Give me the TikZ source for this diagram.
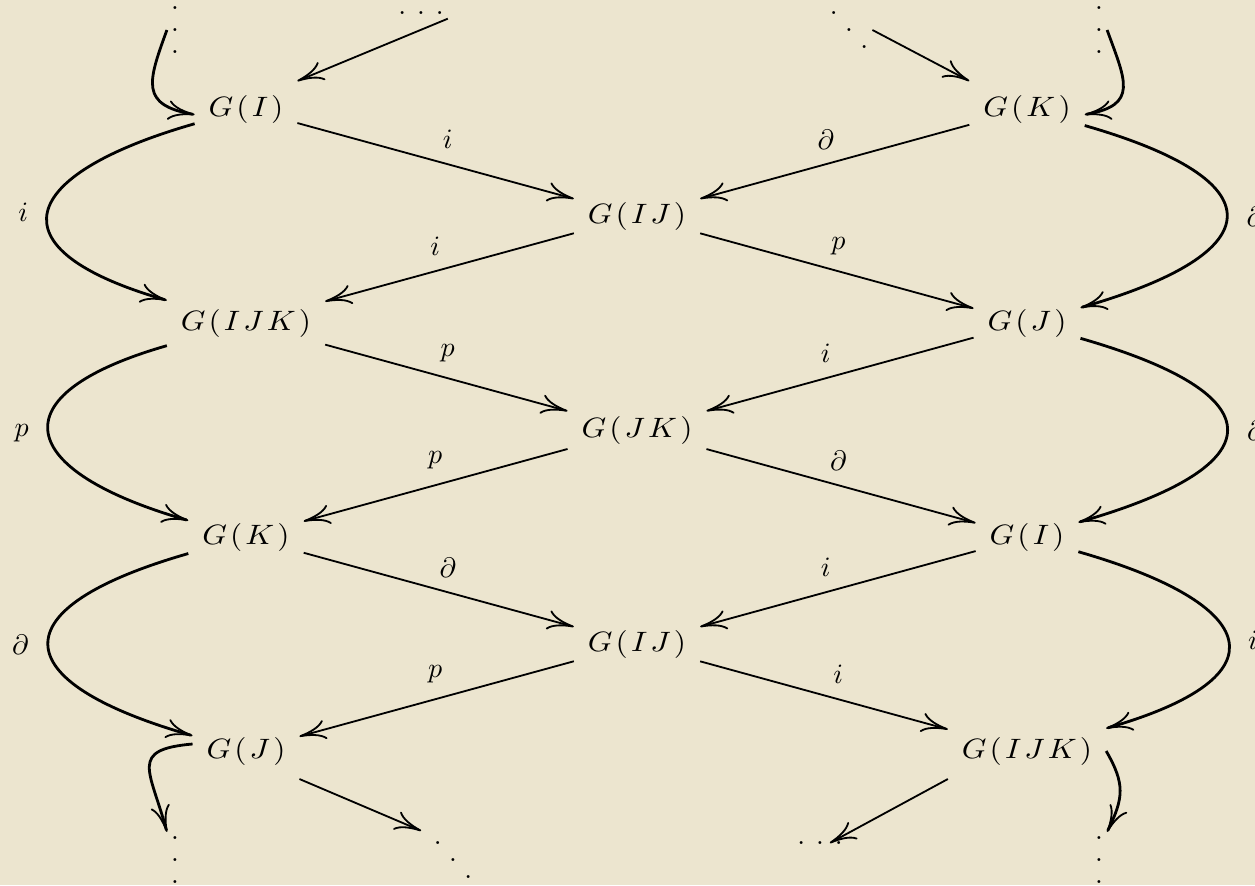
\documentclass[tikz,border=0pt]{standalone}
\usepackage{graphicx}
\usetikzlibrary{arrows.meta,calc}

\definecolor{paper}{RGB}{236,229,207}

% G( ... ) with the letters spread a little apart
\newcommand{\ls}{\mkern1.8mu}
\newcommand{\grp}[1]{\scalebox{1.12}[1]{$G\ls(\ls #1\ls)$}}
% groups of three dots: vertical, horizontal, diagonal
\newcommand{\dotsv}{\vbox{\baselineskip=8pt\hbox{.}\hbox{.}\hbox{.}}}
\newcommand{\dotsh}{\hbox{.\kern3.9pt.\kern3.9pt.}}
\newcommand{\dotsd}{\hbox{.\kern2.7pt\raisebox{-5.9pt}{.}\kern2.7pt\raisebox{-11.8pt}{.}}}

\tikzset{
  obj/.style={inner sep=5pt, outer sep=0pt},
  dts/.style={inner sep=1.5pt, outer sep=0pt},
  lbl/.style={inner sep=1pt},
  tip/.style={-{Computer Modern Rightarrow[length=9.5pt,width=7pt,line width=0.65pt]}},
  arr/.style={tip, line width=0.65pt},
  carr/.style={tip, line width=1pt},
}

\begin{document}
\begin{tikzpicture}[x=0.357pt, y=0.357pt]
  \useasboundingbox (0,0) rectangle (1255,-885);
  \fill[paper] (0,0) rectangle (1255,-885);
  \clip (0,0) rectangle (1255,-885);

  % objects
  \node[obj] (gI1)   at (246,-109)  {\grp{I}};
  \node[obj] (gK1)   at (1027,-109) {\grp{K}};
  \node[obj] (gIJ1)  at (637,-216)  {\grp{I\ls J}};
  \node[obj] (gIJK2) at (246,-323)  {\grp{I\ls J\ls K}};
  \node[obj] (gJ2)   at (1027,-323) {\grp{J}};
  \node[obj] (gJK3)  at (637,-430)  {\grp{J\ls K}};
  \node[obj] (gK4)   at (246,-537)  {\grp{K}};
  \node[obj] (gI4)   at (1027,-537) {\grp{I}};
  \node[obj] (gIJ5)  at (637,-644)  {\grp{I\ls J}};
  \node[obj] (gJ6)   at (246,-751)  {\grp{J}};
  \node[obj] (gIJK6) at (1027,-751) {\grp{I\ls J\ls K}};

  % continuation dots
  \node[dts] (tlv) at (175,-30)  {\dotsv};
  \node[dts] (tmh) at (421,-13)  {\dotsh};
  \node[dts] (tmd) at (849,-30)  {\dotsd};
  \node[dts] (trv) at (1099,-30) {\dotsv};
  \node[dts] (blv) at (175,-860) {\dotsv};
  \node[dts] (bmd) at (453,-860) {\dotsd};
  \node[dts] (bmh) at (820,-843) {\dotsh};
  \node[dts] (brv) at (1099,-860) {\dotsv};

  % zig-zag of straight maps
  \draw[arr] (tmh.south east) -- (gI1.north east);
  \draw[arr] (tmd.east) -- (gK1.north west);

  \draw[arr] (gI1) -- (gIJ1);
  \node[lbl] at ($(gI1)!.5!(gIJ1)!8.5pt!90:(gIJ1)$) {$i$};
  \draw[arr] (gK1) -- (gIJ1);
  \node[lbl] at ($(gK1)!.5!(gIJ1)!8.5pt!-90:(gIJ1)$) {$\partial$};

  \draw[arr] (gIJ1) -- (gIJK2);
  \node[lbl] at ($(gIJ1)!.5!(gIJK2)!8.5pt!-90:(gIJK2)$) {$i$};
  \draw[arr] (gIJ1) -- (gJ2);
  \node[lbl] at ($(gIJ1)!.5!(gJ2)!8.5pt!90:(gJ2)$) {$p$};

  \draw[arr] (gIJK2) -- (gJK3);
  \node[lbl] at ($(gIJK2)!.5!(gJK3)!8.5pt!90:(gJK3)$) {$p$};
  \draw[arr] (gJ2) -- (gJK3);
  \node[lbl] at ($(gJ2)!.5!(gJK3)!8.5pt!-90:(gJK3)$) {$i$};

  \draw[arr] (gJK3) -- (gK4);
  \node[lbl] at ($(gJK3)!.5!(gK4)!8.5pt!-90:(gK4)$) {$p$};
  \draw[arr] (gJK3) -- (gI4);
  \node[lbl] at ($(gJK3)!.5!(gI4)!8.5pt!90:(gI4)$) {$\partial$};

  \draw[arr] (gK4) -- (gIJ5);
  \node[lbl] at ($(gK4)!.5!(gIJ5)!8.5pt!90:(gIJ5)$) {$\partial$};
  \draw[arr] (gI4) -- (gIJ5);
  \node[lbl] at ($(gI4)!.5!(gIJ5)!8.5pt!-90:(gIJ5)$) {$i$};

  \draw[arr] (gIJ5) -- (gJ6);
  \node[lbl] at ($(gIJ5)!.5!(gJ6)!8.5pt!-90:(gJ6)$) {$p$};
  \draw[arr] (gIJ5) -- (gIJK6);
  \node[lbl] at ($(gIJ5)!.5!(gIJK6)!8.5pt!90:(gIJK6)$) {$i$};

  \draw[arr] (gJ6.south east) -- ([shift={(-3pt,2.5pt)}]bmd.north west);
  \draw[arr] (gIJK6.south west) -- ([xshift=3.5pt]bmh.center);

  % curved maps down the left side
  \draw[carr] (tlv.west) to[out=250,in=170,looseness=1.6] ([yshift=-2pt]gI1.west);
  \draw[carr] (gI1) to[out=196,in=164,looseness=2.64] node[lbl,left=5.5pt] {$i$} (gIJK2);
  \draw[carr] (gIJK2) to[out=196,in=164,looseness=2.61] node[lbl,left=5.5pt] {$p$} (gK4);
  \draw[carr] (gK4) to[out=196,in=164,looseness=2.77] node[lbl,left=5.5pt] {$\partial$} (gJ6);
  \draw[carr] ([yshift=2.5pt]gJ6.west) to[out=185,in=105,looseness=1.8] (blv.north west);

  % curved maps down the right side
  \draw[carr] (trv.east) to[out=-70,in=10,looseness=1.6] ([yshift=-2pt]gK1.east);
  \draw[carr] (gK1) to[out=-16,in=16,looseness=2.81] node[lbl,right=5.5pt] {$\partial$} (gJ2);
  \draw[carr] (gJ2) to[out=-16,in=16,looseness=2.85] node[lbl,right=5.5pt] {$\partial$} (gI4);
  \draw[carr] (gI4) to[out=-16,in=16,looseness=2.7] node[lbl,right=5.5pt] {$i$} (gIJK6);
  \draw[carr] (gIJK6.east) to[out=-60,in=64,looseness=1.2] (brv.north east);
\end{tikzpicture}
\end{document}
